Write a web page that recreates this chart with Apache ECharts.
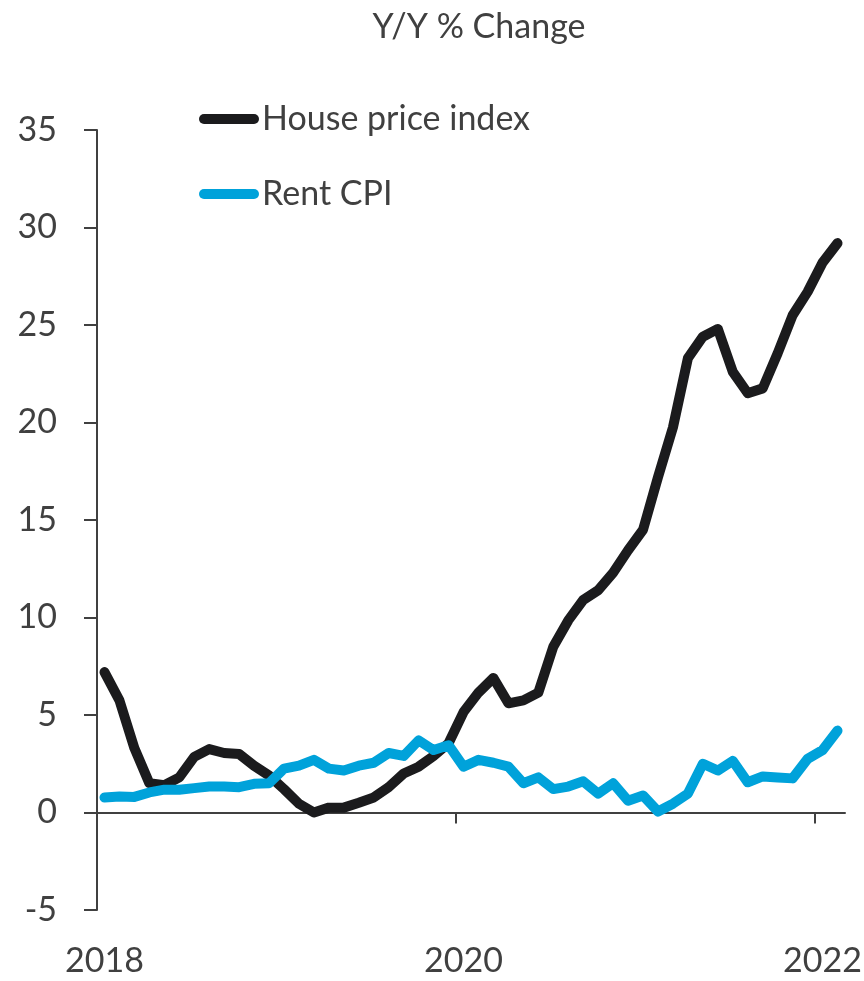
<!DOCTYPE html>
<html>
<head>
<meta charset="utf-8">
<script src="https://cdn.jsdelivr.net/npm/echarts@6/dist/echarts.min.js"></script>
<style>
html,body{margin:0;padding:0;background:#fff;}
#main{width:864px;height:981px;}
</style>
</head>
<body>
<div id="main"></div>
<script>
// 月份：2018-01 到 2022-02，共50个月
var months = [];
for (var y = 2018; y <= 2022; y++) {
    for (var m = 1; m <= 12; m++) {
        if (y == 2022 && m > 2) break;
        months.push(y + '-' + (m < 10 ? '0' + m : m));
    }
}

// 同比变化 %
var housePrice = [
    7.2, 5.75, 3.3, 1.5, 1.4, 1.8, 2.85, 3.25, 3.05, 3.0, 2.4, 1.9,
    1.2, 0.45, 0.0, 0.25, 0.25, 0.5, 0.77, 1.3, 2.0, 2.35, 2.9, 3.55,
    5.15, 6.15, 6.9, 5.6, 5.75, 6.15, 8.5, 9.85, 10.9, 11.4, 12.3, 13.45,
    14.5, 17.2, 19.75, 23.3, 24.4, 24.8, 22.6, 21.5, 21.75, 23.55, 25.5, 26.7,
    28.2, 29.2
];
var rentCpi = [
    0.77, 0.82, 0.8, 1.03, 1.17, 1.17, 1.25, 1.33, 1.33, 1.3, 1.47, 1.5,
    2.25, 2.4, 2.7, 2.25, 2.15, 2.4, 2.55, 3.05, 2.9, 3.7, 3.2, 3.45,
    2.35, 2.7, 2.55, 2.35, 1.5, 1.8, 1.2, 1.33, 1.6, 0.97, 1.5, 0.6,
    0.87, 0.05, 0.45, 0.97, 2.5, 2.15, 2.65, 1.55, 1.85, 1.8, 1.75, 2.75,
    3.2, 4.2
];

// 横轴刻度：年初所在月份序号
var yearTicks = [0, 24, 48];
var yTicks = [-5, 35, 5]; // min, max, interval

var textColor = '#404040';
var fontFamily = 'Lato, "Open Sans", sans-serif';

//把月度数据放到月中位置
function toPoints(arr) {
    return arr.map(function (v, i) { return [i + 0.5, v]; });
}

var myChart = echarts.init(document.getElementById('main'));

var option = {
    animation: false,
    backgroundColor: '#fff',
    title: {
        text: 'Y/Y % Change',
        left: 474,
        top: 5,
        textAlign: 'center',
        textStyle: {
            color: textColor,
            fontFamily: fontFamily,
            fontWeight: 'normal',
            fontSize: 34
        }
    },
    legend: {
        orient: 'vertical',
        left: 194,
        top: 97,
        itemWidth: 60,
        itemHeight: 10,
        itemGap: 41,
        icon: 'path://M5,0 L55,0 A5,5 0 0 1 55,10 L5,10 A5,5 0 0 1 5,0 Z',
        textStyle: {
            color: textColor,
            fontFamily: fontFamily,
            fontSize: 34,
            padding: [0, 0, 0, -2]
        },
        data: ['House price index', 'Rent CPI']
    },
    grid: {
        left: 97,
        top: 130,
        width: 748,
        height: 780,
        outerBoundsMode: 'none',
        containLabel: false
    },
    xAxis: [
        {
            type: 'value',
            min: 0,
            max: months.length,
            axisLine: {
                show: true,
                onZero: true,
                lineStyle: { color: textColor, width: 2 }
            },
            axisTick: {
                show: true,
                customValues: yearTicks,
                length: 11,
                lineStyle: { color: textColor, width: 2 }
            },
            axisLabel: { show: false },
            splitLine: { show: false }
        },
        {
            type: 'value',
            position: 'bottom',
            min: 0,
            max: months.length,
            axisLine: { show: false, onZero: false },
            axisTick: { show: false },
            splitLine: { show: false },
            axisLabel: {
                show: true,
                customValues: yearTicks.map(function (t) { return t + 0.5; }),
                margin: 34,
                color: textColor,
                fontFamily: fontFamily,
                fontSize: 34,
                formatter: function (v) {
                    return months[Math.floor(v)].slice(0, 4);
                }
            }
        }
    ],
    yAxis: {
        type: 'value',
        min: yTicks[0],
        max: yTicks[1],
        interval: yTicks[2],
        axisLine: {
            show: true,
            lineStyle: { color: textColor, width: 2 }
        },
        axisTick: {
            show: true,
            length: 13,
            lineStyle: { color: textColor, width: 2 }
        },
        axisLabel: {
            margin: 40,
            color: textColor,
            fontFamily: fontFamily,
            fontSize: 34
        },
        splitLine: { show: false }
    },
    series: [
        {
            name: 'House price index',
            type: 'line',
            xAxisIndex: 0,
            data: toPoints(housePrice),
            showSymbol: false,
            symbol: 'none',
            color: '#1b1b1d',
            lineStyle: { color: '#1b1b1d', width: 10, cap: 'round', join: 'round' }
        },
        {
            name: 'Rent CPI',
            type: 'line',
            xAxisIndex: 0,
            data: toPoints(rentCpi),
            showSymbol: false,
            symbol: 'none',
            color: '#00a2da',
            lineStyle: { color: '#00a2da', width: 10, cap: 'round', join: 'round' }
        }
    ]
};

myChart.setOption(option);
</script>
</body>
</html>
